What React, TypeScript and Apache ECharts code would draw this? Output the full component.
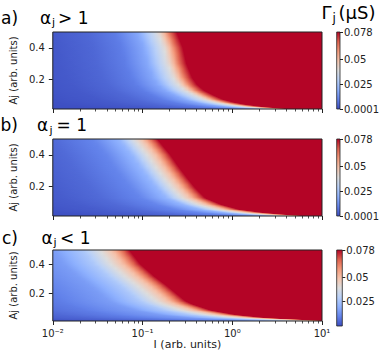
import React, { useEffect, useRef } from "react";
import * as echarts from "echarts";

const FONT = "DejaVu Sans";

// ---- texts / ticks ----
const panelLabels = ["a)", "b)", "c)"];
const alphaRelations = ["> 1", "= 1", "< 1"];
const xTickLabels = ["10⁻²", "10⁻¹", "10⁰", "10¹"];
const xMinorTicks = [0.02, 0.03, 0.04, 0.05, 0.06, 0.07, 0.08, 0.09, 0.2, 0.3, 0.4, 0.5, 0.6, 0.7, 0.8, 0.9, 2, 3, 4, 5, 6, 7, 8, 9];
const yTicks = [0.2, 0.4];
const colorbarTicksAB = [0.0001, 0.025, 0.05, 0.078];
const colorbarTicksC = [0.025, 0.05, 0.078];

const I_MIN = 0.01, I_MAX = 10;
const A_MIN = 0.012, A_MAX = 0.5;
const G_MIN = 0.0001, G_MAX = 0.078;

// ---- red edge (Γ reaches 0.078): log10(I) read for each Aj ----
const edgeA_a = [0.5, 0.4, 0.3, 0.21, 0.166, 0.128, 0.097, 0.072, 0.053, 0.04, 0.028, 0.019, 0.012];
const edgeLogI_a = [-0.62, -0.55, -0.51, -0.445, -0.39, -0.31, -0.2, -0.1, 0.03, 0.155, 0.32, 0.5, 0.66];
const edgeA_b = [0.5, 0.4, 0.315, 0.252, 0.189, 0.126, 0.084, 0.053, 0.032, 0.021, 0.012];
const edgeLogI_b = [-0.835, -0.69, -0.585, -0.5, -0.41, -0.3, -0.12, 0.08, 0.365, 0.61, 0.85];
const edgeA_c = [0.5, 0.403, 0.318, 0.255, 0.191, 0.149, 0.128, 0.085, 0.054, 0.033, 0.022, 0.012];
const edgeLogI_c = [-1.147, -1.024, -0.866, -0.729, -0.603, -0.519, -0.445, -0.234, 0.05, 0.397, 0.786, 1.1];

// ---- Γ read along a row, vs decades to the left of the red edge ----
const profD_a = [-3.0, -2.0, -1.4, -1.0, -0.68, -0.43, -0.21, -0.14, -0.08, 0];
const profG_a = [0.0002, 0.0008, 0.0025, 0.005, 0.009, 0.018, 0.039, 0.052, 0.066, 0.078];
const profD_b = [-3.0, -2.2, -1.6, -1.17, -0.72, -0.43, -0.26, -0.16, -0.08, 0];
const profG_b = [0.0003, 0.0012, 0.003, 0.0055, 0.0105, 0.021, 0.039, 0.05, 0.065, 0.078];
const profD_c = [-3.2, -2.8, -2.0, -1.4, -0.85, -0.51, -0.33, -0.19, -0.09, 0];
const profG_c = [0.001, 0.002, 0.005, 0.009, 0.0155, 0.027, 0.039, 0.05, 0.065, 0.078];

// coolwarm colormap
const coolwarm = [
  [59, 76, 192], [98, 130, 234], [141, 176, 254], [184, 208, 249], [221, 221, 221],
  [245, 196, 173], [244, 154, 123], [222, 96, 77], [180, 4, 38],
];

function gammaColor(v: number) {
  let t = (v - G_MIN) / (G_MAX - G_MIN);
  t = Math.max(0, Math.min(1, t));
  const f = t * (coolwarm.length - 1);
  const i = Math.min(coolwarm.length - 2, Math.floor(f));
  const u = f - i;
  const c = coolwarm[i].map((x, j) => Math.round(x + u * (coolwarm[i + 1][j] - x)));
  return `rgb(${c[0]},${c[1]},${c[2]})`;
}

function lerpTable(x: number, X: number[], Y: number[]) {
  // X ascending
  if (x <= X[0]) return Y[0];
  for (let j = 1; j < X.length; j++) {
    if (x <= X[j]) {
      const u = (x - X[j - 1]) / (X[j] - X[j - 1]);
      return Y[j - 1] + u * (Y[j] - Y[j - 1]);
    }
  }
  return Y[Y.length - 1];
}

const LOG_MIN = Math.log10(I_MIN), LOG_MAX = Math.log10(I_MAX);

function rowGradient(s: number, D: number[], G: number[]): any {
  const span = LOG_MAX - LOG_MIN;
  const edgeF = (s - LOG_MIN) / span;
  const red = gammaColor(G_MAX);
  if (edgeF <= 0) return red;
  const stops: any[] = [];
  const N = 60;
  for (let k = 0; k <= N; k++) {
    const f = Math.round((k / N) * 10000) / 10000;
    if (f >= edgeF) break;
    const d = LOG_MIN + f * span - s;
    stops.push({ offset: f, color: gammaColor(d >= 0 ? G_MAX : lerpTable(d, D, G)) });
  }
  if (edgeF < 1) {
    stops.push({ offset: Math.round(edgeF * 10000) / 10000, color: red });
    stops.push({ offset: 1, color: red });
  }
  return { type: "linear", x: 0, y: 0, x2: 1, y2: 0, colorStops: stops };
}

function makeHeatRenderer(edgeA: number[], edgeL: number[], D: number[], G: number[]) {
  const revA = edgeA.slice().reverse();
  const revL = edgeL.slice().reverse();
  return (_params: any, api: any) => {
    const tl = api.coord([I_MIN, A_MAX]);
    const br = api.coord([I_MAX, A_MIN]);
    const x0 = tl[0], w = br[0] - tl[0];
    const yTop = tl[1], yBot = br[1];
    const children: any[] = [];
    for (let py = Math.floor(yTop); py < yBot; py++) {
      const yc = Math.min(yBot, Math.max(yTop, py + 0.5));
      const a = A_MAX + ((yc - yTop) / (yBot - yTop)) * (A_MIN - A_MAX);
      const s = lerpTable(a, revA, revL);
      children.push({
        type: "rect",
        shape: { x: x0, y: py, width: w, height: 1.4 },
        style: { fill: rowGradient(s, D, G) },
      });
    }
    return { type: "group", children };
  };
}

const panels = [
  { top: 32, height: 77, edgeA: edgeA_a, edgeL: edgeLogI_a, D: profD_a, G: profG_a, cb: colorbarTicksAB },
  { top: 139, height: 77, edgeA: edgeA_b, edgeL: edgeLogI_b, D: profD_b, G: profG_b, cb: colorbarTicksAB },
  { top: 250, height: 76, edgeA: edgeA_c, edgeL: edgeLogI_c, D: profD_c, G: profG_c, cb: colorbarTicksC },
];

// title text layout
const labelLayout = [
  { lx: 1, ax: 40, jx: 52, rx: 58, base: 23.5 },
  { lx: 0.5, ax: 37, jx: 49.5, rx: 56.5, base: 131 },
  { lx: 2, ax: 41.5, jx: 53.5, rx: 60, base: 243.5 },
];

function buildOption() {
  const grid: any[] = [];
  const xAxis: any[] = [];
  const yAxis: any[] = [];
  const series: any[] = [];
  const tickColor = "#222";
  const off = { show: false };

  panels.forEach((p) => grid.push({ left: 37, top: p.top, width: 285, height: p.height }));
  panels.forEach((p) => grid.push({ left: 336.7, top: p.top, width: 5.6, height: p.height }));

  panels.forEach((p, k) => {
    xAxis.push({
      type: "log", logBase: 10, gridIndex: k, min: I_MIN, max: I_MAX, position: "bottom",
      axisLine: { show: false, onZero: false }, splitLine: off, splitArea: off, minorSplitLine: off,
      axisTick: { show: true, length: 4, lineStyle: { color: tickColor, width: 1 } },
      axisLabel: {
        show: k === 2, fontSize: 10, color: tickColor, margin: 7, fontFamily: FONT,
        formatter: (v: number) => xTickLabels[Math.round(Math.log10(v)) + 2] ?? "",
      },
      name: k === 2 ? "I (arb. units)" : "", nameLocation: "middle", nameGap: 18,
      nameTextStyle: { fontSize: 11, color: tickColor, fontFamily: FONT },
    });
    xAxis.push({
      type: "log", logBase: 10, gridIndex: k, min: I_MIN, max: I_MAX, position: "bottom",
      axisLine: { show: false, onZero: false }, splitLine: off, splitArea: off, minorSplitLine: off,
      axisLabel: { show: false },
      axisTick: { show: true, length: 2.5, customValues: xMinorTicks, lineStyle: { color: tickColor, width: 0.8 } },
    });
    yAxis.push({
      type: "value", gridIndex: k, min: A_MIN, max: A_MAX, position: "left",
      axisLine: { show: false, onZero: false }, splitLine: off, splitArea: off, minorSplitLine: off,
      axisTick: { show: true, length: 4, customValues: yTicks, lineStyle: { color: tickColor, width: 1 } },
      axisLabel: { show: true, customValues: yTicks, fontSize: 10, color: tickColor, margin: 8, fontFamily: FONT, formatter: (v: number) => String(v) },
      name: "Aj (arb. units)", nameLocation: "middle", nameGap: 25,
      nameTextStyle: { fontSize: 10, color: tickColor, fontFamily: FONT },
    });
  });
  panels.forEach((p, k) => {
    xAxis.push({ type: "value", gridIndex: 3 + k, min: 0, max: 1, show: false });
    yAxis.push({
      type: "value", gridIndex: 3 + k, min: G_MIN, max: G_MAX, position: "right",
      axisLine: { show: false, onZero: false }, splitLine: off, splitArea: off, minorSplitLine: off,
      axisTick: { show: true, length: 3, customValues: p.cb, lineStyle: { color: tickColor, width: 1 } },
      axisLabel: { show: true, customValues: p.cb, fontSize: 10, color: tickColor, margin: 4, fontFamily: FONT, formatter: (v: number) => String(v) },
    });
  });

  panels.forEach((p, k) => {
    series.push({
      type: "custom", coordinateSystem: "cartesian2d", xAxisIndex: 2 * k, yAxisIndex: k,
      data: [[1, A_MAX]],
      renderItem: makeHeatRenderer(p.edgeA, p.edgeL, p.D, p.G),
      clip: true, silent: true, z: 1,
    });
    series.push({
      type: "custom", coordinateSystem: "cartesian2d", xAxisIndex: 2 * k, yAxisIndex: k,
      data: [[1, A_MAX]], silent: true, z: 5,
      renderItem: (_params: any, api: any) => {
        const tl = api.coord([I_MIN, A_MAX]);
        const br = api.coord([I_MAX, A_MIN]);
        return {
          type: "rect",
          shape: { x: tl[0], y: tl[1], width: br[0] - tl[0], height: br[1] - tl[1] },
          style: { fill: "none", stroke: "#222", lineWidth: 1 },
        };
      },
    });
    series.push({
      type: "custom", coordinateSystem: "cartesian2d", xAxisIndex: 6 + k, yAxisIndex: 3 + k,
      data: [[0.5, G_MAX]], silent: true, z: 5,
      renderItem: (_params: any, api: any) => {
        const tl = api.coord([0, G_MAX]);
        const br = api.coord([1, G_MIN]);
        return {
          type: "rect",
          shape: { x: tl[0], y: tl[1], width: br[0] - tl[0], height: br[1] - tl[1] },
          style: {
            fill: {
              type: "linear", x: 0, y: 1, x2: 0, y2: 0,
              colorStops: coolwarm.map((c, i) => ({ offset: i / (coolwarm.length - 1), color: `rgb(${c[0]},${c[1]},${c[2]})` })),
            },
            stroke: "#222", lineWidth: 0.8,
          },
        };
      },
    });
  });

  const elements: any[] = [];
  labelLayout.forEach((L, k) => {
    const mid = L.base - 0.35 * 17;
    elements.push({ type: "text", x: L.lx, y: mid, style: { text: panelLabels[k], fontSize: 17, fontFamily: FONT, fill: "#000", verticalAlign: "middle", align: "left" } });
    elements.push({ type: "text", x: L.ax, y: mid, style: { text: "α", fontSize: 17, fontFamily: FONT, fill: "#000", verticalAlign: "middle", align: "left" } });
    elements.push({ type: "text", x: L.jx, y: L.base + 3 - 0.35 * 11, style: { text: "j", fontSize: 11, fontFamily: FONT, fill: "#000", verticalAlign: "middle", align: "left" } });
    elements.push({ type: "text", x: L.rx, y: mid, style: { text: alphaRelations[k], fontSize: 17, fontFamily: FONT, fill: "#000", verticalAlign: "middle", align: "left" } });
  });
  elements.push({ type: "text", x: 321.5, y: 12, style: { text: "Γ", fontSize: 18, fontFamily: FONT, fill: "#000", verticalAlign: "middle", align: "left" } });
  elements.push({ type: "text", x: 332.5, y: 18.4, style: { text: "j", fontSize: 12, fontFamily: FONT, fill: "#000", verticalAlign: "middle", align: "left" } });
  elements.push({ type: "text", x: 338.5, y: 12.2, style: { text: "(μS)", fontSize: 18, fontFamily: FONT, fill: "#000", verticalAlign: "middle", align: "left" } });

  return {
    animation: false,
    backgroundColor: "#fff",
    textStyle: { fontFamily: FONT },
    grid, xAxis, yAxis, series,
    graphic: { elements },
  };
}

export default function App() {
  const ref = useRef<HTMLDivElement>(null);
  useEffect(() => {
    if (!ref.current) return;
    const chart = echarts.init(ref.current, null, { renderer: "svg" });
    chart.setOption(buildOption() as any);
    return () => chart.dispose();
  }, []);
  return <div ref={ref} style={{ position: "absolute", left: 0, top: 0, width: 382, height: 351 }} />;
}
